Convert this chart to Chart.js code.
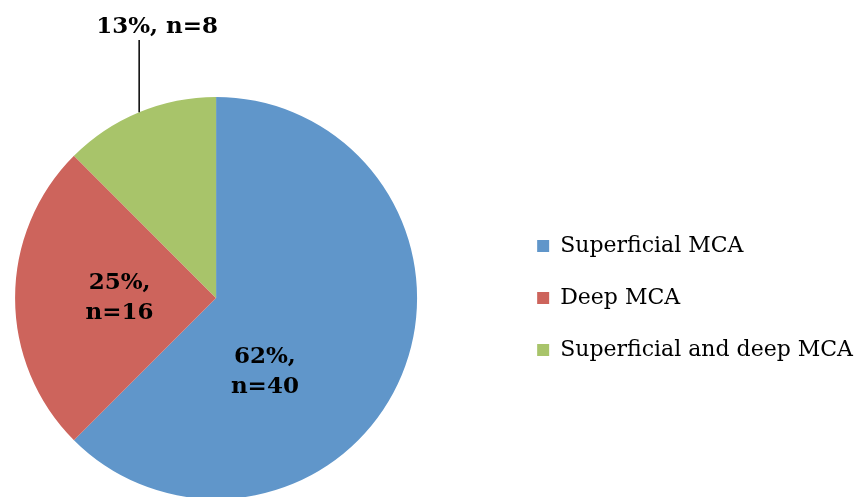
<!DOCTYPE html>
<html lang="en">
<head>
    <meta charset="UTF-8">
    <title>MCA territory</title>
    <style>
        html, body {
            margin: 0;
            padding: 0;
            background: #fff;
            overflow: hidden;
            width: 854px;
            height: 497px;
        }
        .wrap {
            position: absolute;
            left: -75px;
            top: 0;
            width: 942px;
            height: 499px;
        }
    </style>
    <script src="https://cdn.jsdelivr.net/npm/chart.js"></script>
</head>
<body>
    <div class="wrap">
        <canvas id="pieChart"></canvas>
    </div>
    <script>
        // data
        const categories = ['Superficial MCA', 'Deep MCA', 'Superficial and deep MCA'];
        const counts = [40, 16, 8];
        const pctLabels = ['62%', '25%', '13%'];
        const colors = ['#6096CA', '#CD645C', '#A8C46A'];

        // label placement per slice: angle from slice centre (deg), distance as fraction of radius
        const labelPos = [
            { dAngle: 34, dist: 0.44, lines: i => [pctLabels[i] + ',', 'n=' + counts[i]] },
            { dAngle: 0, dist: 0.48, lines: i => [pctLabels[i] + ',', 'n=' + counts[i]] },
            { outside: true, lines: i => [pctLabels[i] + ', n=' + counts[i]] }
        ];

        const sliceLabels = {
            id: 'sliceLabels',
            afterDatasetsDraw(chart) {
                const ctx = chart.ctx;
                const meta = chart.getDatasetMeta(0);
                ctx.save();
                ctx.font = 'bold 23px "DejaVu Serif", serif';
                ctx.fillStyle = '#000';
                ctx.textAlign = 'center';
                ctx.textBaseline = 'middle';
                meta.data.forEach((arc, i) => {
                    const p = arc.getProps(['x', 'y', 'startAngle', 'endAngle', 'outerRadius'], true);
                    const mid = (p.startAngle + p.endAngle) / 2;
                    const cfg = labelPos[i];
                    const lines = cfg.lines(i);
                    if (cfg.outside) {
                        const ex = p.x + Math.cos(mid) * p.outerRadius;
                        const ey = p.y + Math.sin(mid) * p.outerRadius;
                        ctx.strokeStyle = '#000';
                        ctx.lineWidth = 1.5;
                        ctx.beginPath();
                        ctx.moveTo(ex, ey);
                        ctx.lineTo(ex, chart.chartArea.top - 57);
                        ctx.stroke();
                        ctx.fillText(lines[0], ex + 18, chart.chartArea.top - 70);
                    } else {
                        const a = mid + cfg.dAngle * Math.PI / 180;
                        const cx = p.x + Math.cos(a) * p.outerRadius * cfg.dist;
                        const cy = p.y + Math.sin(a) * p.outerRadius * cfg.dist;
                        lines.forEach((t, k) => {
                            ctx.fillText(t, cx, cy + (k - (lines.length - 1) / 2) * 30);
                        });
                    }
                });
                ctx.restore();
            }
        };

        const chart = new Chart(document.getElementById('pieChart'), {
            type: 'pie',
            data: {
                labels: categories,
                datasets: [{
                    data: counts,
                    backgroundColor: colors,
                    borderWidth: 0
                }]
            },
            options: {
                responsive: true,
                maintainAspectRatio: false,
                animation: false,
                layout: { padding: { top: 97, bottom: 0, left: 0, right: 4 } },
                plugins: {
                    tooltip: { enabled: false },
                    legend: {
                        position: 'right',
                        labels: {
                            boxWidth: 12,
                            boxHeight: 12,
                            padding: 30,
                            color: '#000',
                            font: { family: '"DejaVu Serif", serif', size: 22 }
                        }
                    }
                }
            },
            plugins: [sliceLabels]
        });
    </script>
</body>
</html>
